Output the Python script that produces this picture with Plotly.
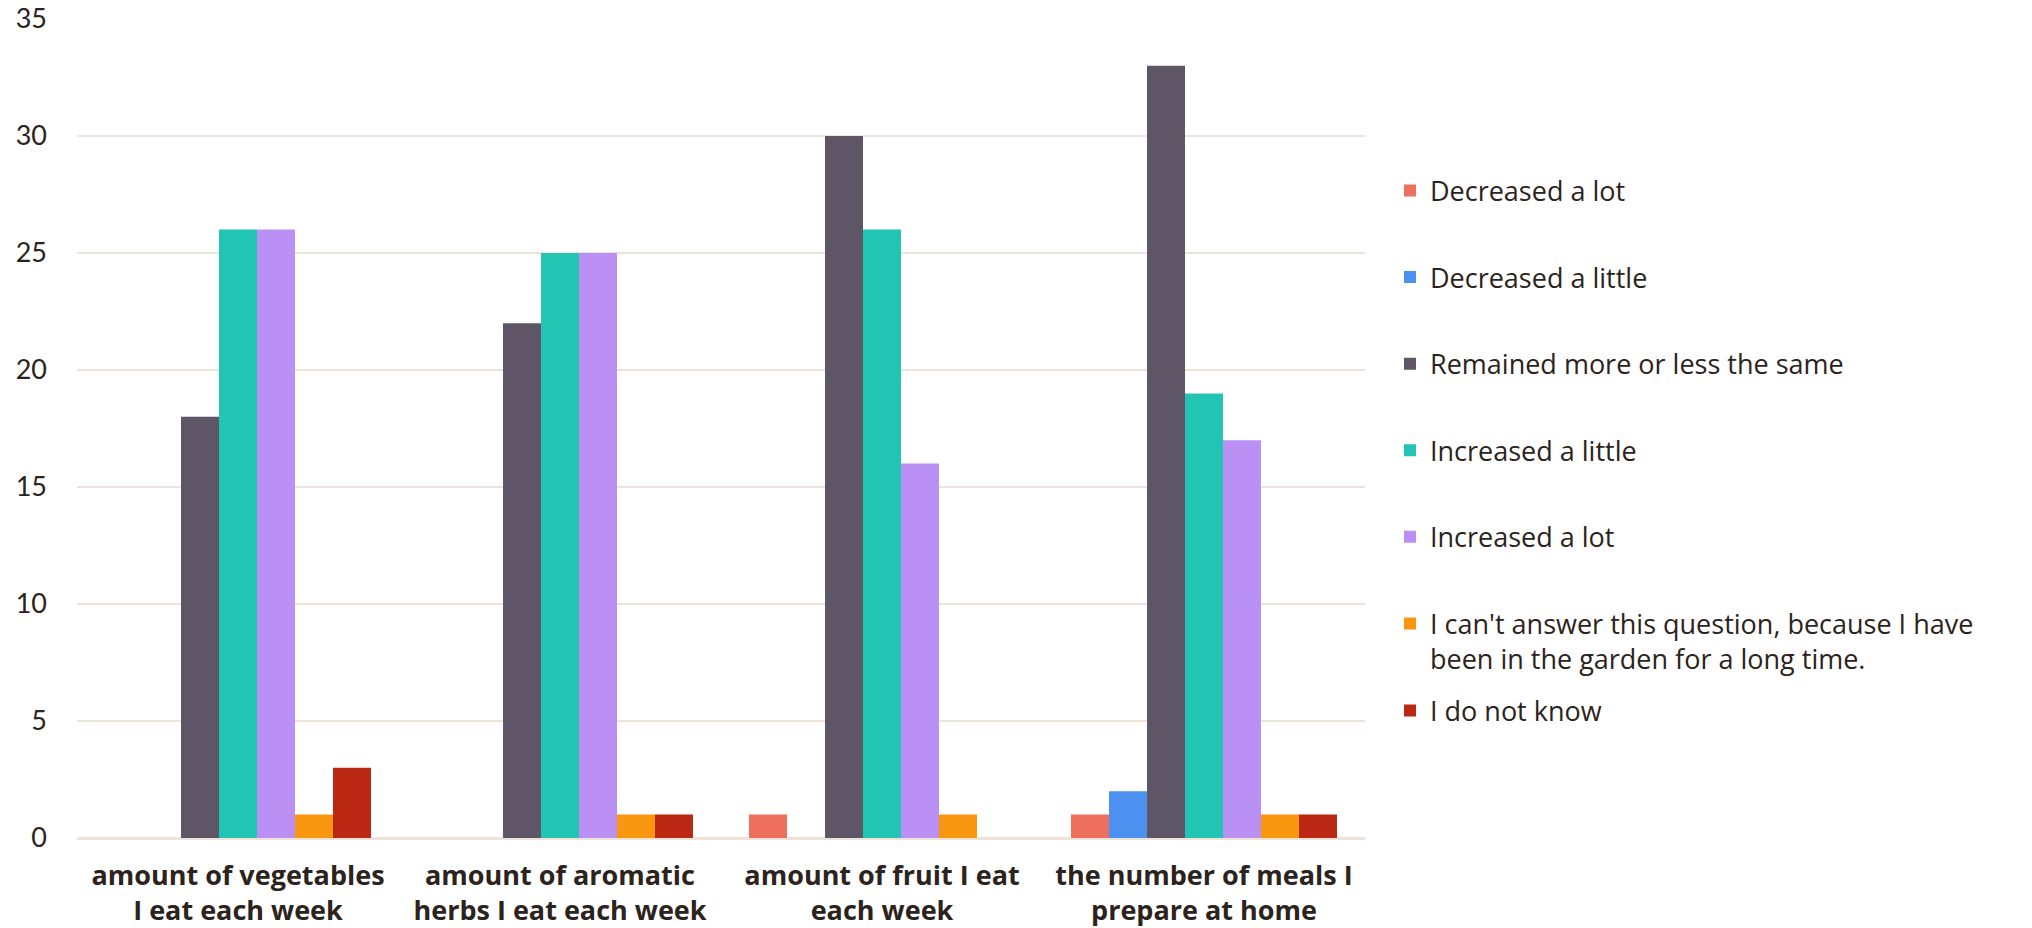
import plotly.graph_objects as go

categories = [
    "amount of vegetables<br>I eat each week",
    "amount of aromatic<br>herbs I eat each week",
    "amount of fruit I eat<br>each week",
    "the number of meals I<br>prepare at home",
]
series_names = [
    "Decreased a lot",
    "Decreased a little",
    "Remained more or less the same",
    "Increased a little",
    "Increased a lot",
    "I can't answer this question, because I have<br>been in the garden for a long time.",
    "I do not know",
]
decreased_a_lot = [0, 0, 1, 1]
decreased_a_little = [0, 0, 0, 2]
remained_same = [18, 22, 30, 33]
increased_a_little = [26, 25, 26, 19]
increased_a_lot = [26, 25, 16, 17]
cant_answer = [1, 1, 1, 1]
do_not_know = [3, 1, 0, 1]
y_ticks = [0, 5, 10, 15, 20, 25, 30, 35]

series_values = [decreased_a_lot, decreased_a_little, remained_same,
                 increased_a_little, increased_a_lot, cant_answer, do_not_know]
colors = ["#EF6F5E", "#4C90F0", "#5E5566", "#22C4B3", "#BA90F4", "#F8960F", "#BA2814"]

TEXT = "#2C231C"
GRID = "#EFE3D8"

fig = go.Figure()
for i, (name, vals, col) in enumerate(zip(series_names, series_values, colors)):
    fig.add_trace(go.Bar(
        x=categories, y=vals, name=name,
        marker=dict(color=col, line=dict(width=0)),
        legendgroup="g%d" % i,
        legend="legend2" if i == len(series_names) - 1 else "legend",
    ))

legend_font = dict(family="Open Sans", size=27, color=TEXT)
fig.update_layout(
    width=2032, height=928,
    barmode="group", bargap=0.174, bargroupgap=0,
    plot_bgcolor="white", paper_bgcolor="white",
    margin=dict(l=77, r=667, t=19, b=90, autoexpand=False),
    font=dict(family="Lato", size=27, color=TEXT),
    legend=dict(
        x=1.0194, xanchor="left", y=0.8200, yanchor="top",
        font=legend_font, valign="top",
        traceorder="grouped", tracegroupgap=48.5,
        bgcolor="rgba(0,0,0,0)",
    ),
    legend2=dict(
        x=1.0194, xanchor="left", y=0.1851, yanchor="top",
        font=legend_font, valign="top",
        bgcolor="rgba(0,0,0,0)",
    ),
    showlegend=True,
)
fig.update_yaxes(
    range=[0, 35], tickvals=y_ticks, showgrid=True, gridcolor=GRID, gridwidth=2,
    zeroline=True, zerolinecolor=GRID, zerolinewidth=3,
    tickfont=dict(family="Lato", size=27, color=TEXT),
    ticklabelstandoff=29, showline=False, automargin=False,
)
fig.update_xaxes(
    tickfont=dict(family="Open Sans", size=27, color=TEXT, weight="bold"),
    showline=False, ticks="", ticklabelstandoff=19, automargin=False,
)

fig.write_html(
    "out.html",
    config={"displayModeBar": False},
    post_script="document.body.style.margin='0';"
                "document.body.style.overflow='hidden';"
                "document.documentElement.style.overflow='hidden';",
)
